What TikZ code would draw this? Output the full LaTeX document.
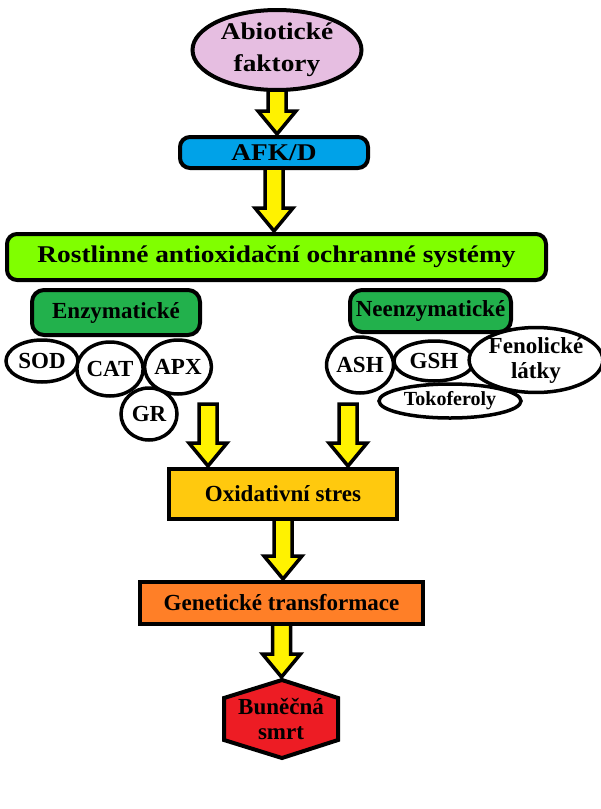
\documentclass[tikz,border=0pt]{standalone}
\usepackage{fontspec}
\setmainfont{Liberation Serif}
\newfontfamily\widefont{Liberation Serif}[FakeStretch=1.14]
\usetikzlibrary{shapes.geometric,calc}
\definecolor{abiofill}{RGB}{230,190,225}
\definecolor{afkfill}{RGB}{0,162,232}
\definecolor{sysfill}{RGB}{128,255,0}
\definecolor{groupfill}{RGB}{34,177,76}
\definecolor{oxfill}{RGB}{255,201,14}
\definecolor{genfill}{RGB}{255,127,39}
\definecolor{deathfill}{RGB}{237,28,36}
\definecolor{arrowfill}{RGB}{255,242,0}

% fat yellow arrow from one node to the next
\newcommand{\fatarrow}[2]{%
  \draw[fat] let \p1=(#1), \p2=(#2) in
    (\x1-9pt,\y1) -- (\x1+9pt,\y1) -- (\x1+9pt,\y2+26pt) -- (\x1+19pt,\y2+26pt)
    -- (\x1,\y2+3pt) -- (\x1-19pt,\y2+26pt) -- (\x1-9pt,\y2+26pt) -- cycle;}

\begin{document}
\begin{tikzpicture}[x=1pt,y=-1pt,
    box/.style={draw=black, line width=4pt, inner sep=0pt, outer sep=0pt,
      align=center, font=\bfseries\fontsize{23}{25}\selectfont},
    widebox/.style={box, font=\widefont\bfseries\fontsize{24}{32}\selectfont},
    oval/.style={box, ellipse, line width=3.5pt, fill=white},
    fat/.style={draw=black, line width=3.5pt, fill=arrowfill, line join=miter}]
  \path[use as bounding box, fill=white] (0,0) rectangle (601,809);

  % top of the chain
  \node[widebox, ellipse, fill=abiofill, minimum width=169, minimum height=80]
    (abio) at (277,50) {Abiotické\\faktory};
  \node[widebox, rounded corners=10pt, fill=afkfill, minimum width=188, minimum height=31]
    (afk) at (274,152.5) {AFK/D};
  \node[widebox, rounded corners=10pt, fill=sysfill, minimum width=539, minimum height=46]
    (sys) at (276.5,257) {Rostlinné antioxidační ochranné systémy};

  % the two groups
  \node[box, rounded corners=12pt, fill=groupfill, minimum width=168, minimum height=45]
    (enz) at (116,312.5) {Enzymatické};
  \node[box, rounded corners=12pt, fill=groupfill, minimum width=161, minimum height=42]
    (neenz) at (430.5,311) {Neenzymatické};

  % enzymes
  \node[oval, minimum width=72, minimum height=42] (sod) at (42,361) {SOD};
  \node[oval, minimum width=56, minimum height=54] (cat) at (110,369) {CAT};
  \node[oval, minimum width=66, minimum height=54] (apx) at (178,367) {APX};
  \node[oval, minimum width=56, minimum height=52] (gr) at (149,414) {GR};

  % non-enzymatic
  \node[oval, minimum width=62, minimum height=56] (ash) at (360,365) {ASH};
  \node[oval, minimum width=80, minimum height=40] (gsh) at (434,361) {GSH};
  \node[oval, minimum width=122, minimum height=62] (fenol) at (536,360) {Fenolické\\látky};
  \node[oval, minimum width=142, minimum height=34, font=\bfseries\fontsize{20}{22}\selectfont]
    (toko) at (450,401) {Tokoferoly};

  % bottom of the chain
  \node[box, fill=oxfill, minimum width=228, minimum height=50] (ox) at (283,494) {Oxidativní stres};
  \node[box, fill=genfill, minimum width=283, minimum height=42] (gen) at (281.5,603) {Genetické transformace};
  \draw[draw=black, line width=4pt, fill=deathfill, line join=miter]
    (282,680) coordinate (hextop) -- (338,698) -- (338,740) -- (282,758)
    -- (224,740) -- (224,698) -- cycle;
  \node[box, draw=none] (death) at (281,719) {Buněčná\\smrt};

  % arrows
  \coordinate (enzout) at (208,404);
  \coordinate (neenzout) at (348,404);
  \fatarrow{abio.south}{afk.north}
  \fatarrow{afk.south}{sys.north}
  \fatarrow{enzout}{enzout |- ox.north}
  \fatarrow{neenzout}{neenzout |- ox.north}
  \fatarrow{ox.south}{gen.north}
  \fatarrow{gen.south}{hextop}
\end{tikzpicture}
\end{document}
